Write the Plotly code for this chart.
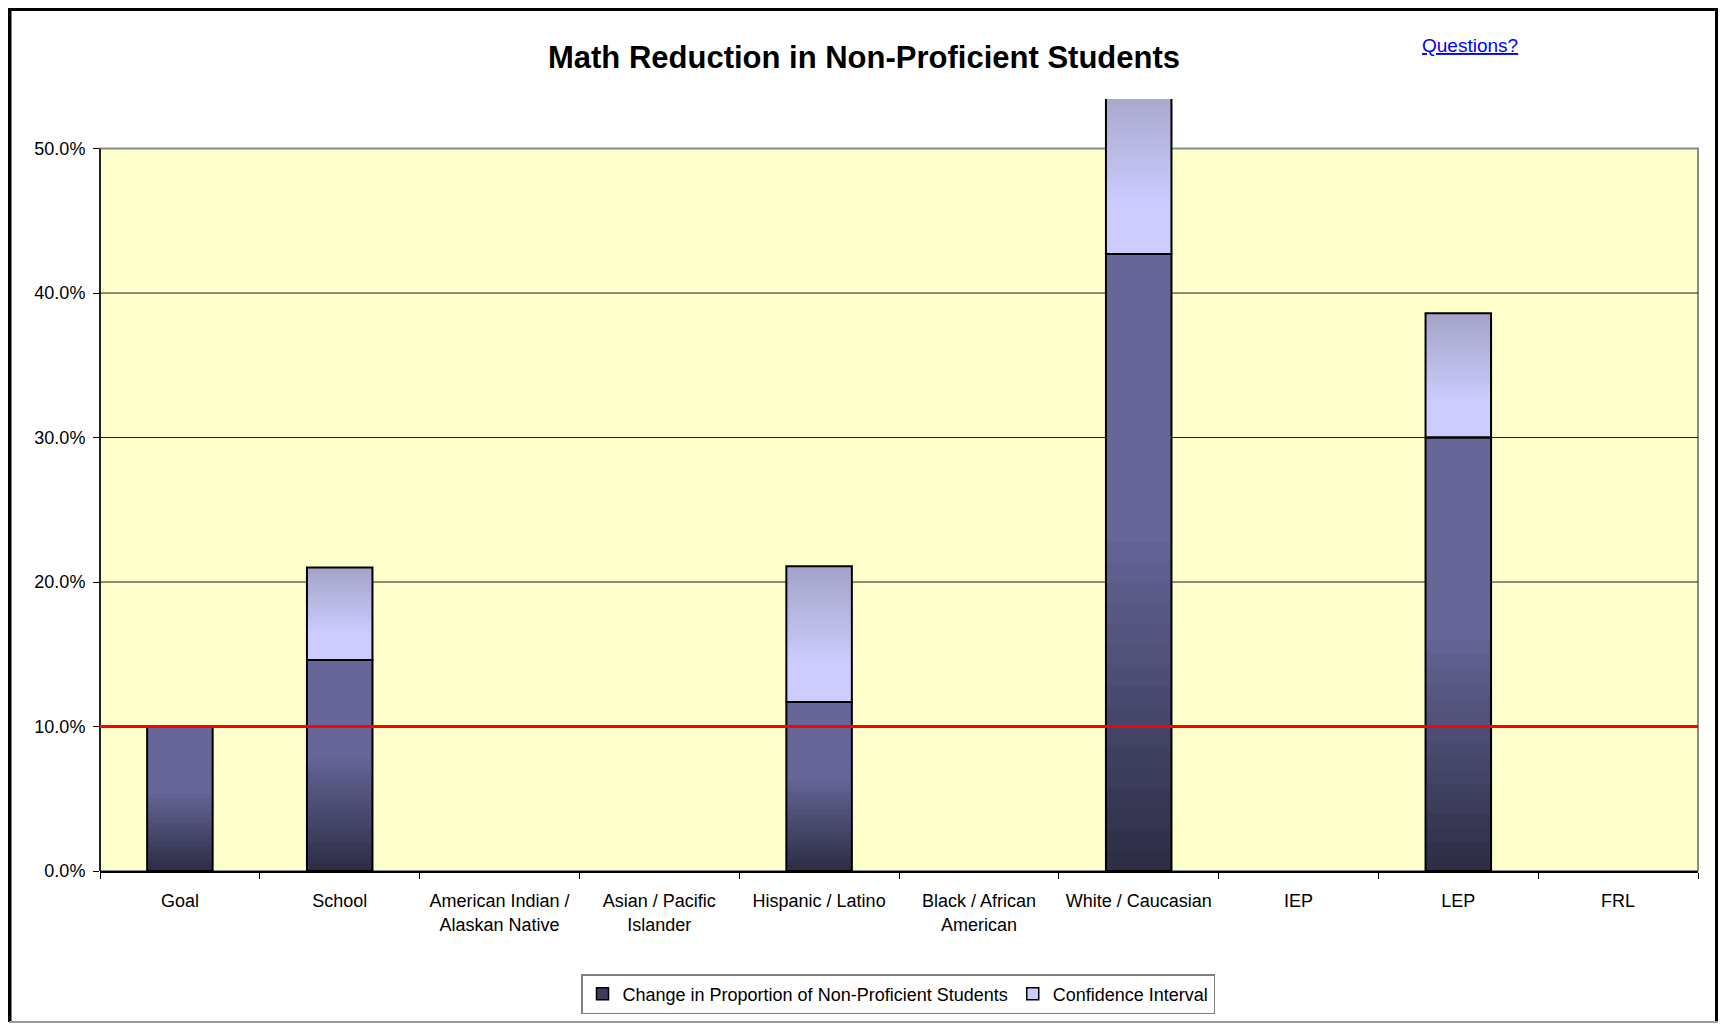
import plotly.graph_objects as go

# ---------------- data ----------------
categories = [
    "Goal", "School", "American Indian /<br>Alaskan Native", "Asian / Pacific<br>Islander",
    "Hispanic / Latino", "Black / African<br>American", "White / Caucasian", "IEP", "LEP", "FRL",
]
change = [0.100, 0.146, None, None, 0.117, None, 0.427, None, 0.300, None]
conf_interval = [None, 0.064, None, None, 0.094, None, 0.120, None, 0.086, None]
goal_line = 0.10
y_ticks = [0.0, 0.1, 0.2, 0.3, 0.4, 0.5]
series_names = ["Change in Proportion of Non-Proficient Students", "Confidence Interval"]

# ---------------- style ----------------
OFF = 8                      # page body margin in the browser
W, H = 1718, 1016
L, R, T, B = 92, 28, 91, 153
PW, PH = W - L - R, H - T - B
FONT = "Liberation Sans, Arial, sans-serif"
N_SLICES = 30
BAR_W = 0.41


def px2x(px):
    """screen pixel x -> paper x"""
    return (px - OFF - L) / PW


def py2y(py):
    """screen pixel y -> paper y"""
    return (H - B - (py - OFF)) / PH


def hex2rgb(h):
    h = h.lstrip("#")
    return tuple(int(h[i:i + 2], 16) for i in (0, 2, 4))


def lerp(c1, c2, t):
    a, b = hex2rgb(c1), hex2rgb(c2)
    return "rgb(%d,%d,%d)" % tuple(round(a[i] + (b[i] - a[i]) * t) for i in range(3))


def dark_color(t):
    return lerp("#2c2c44", "#666699", min(t / 0.55, 1.0))


def light_color(t):
    if t < 0.28:
        return "#ccccff"
    return lerp("#ccccff", "#a3a3c8", (t - 0.28) / 0.72)


fig = go.Figure()

# legend entries
fig.add_trace(go.Bar(x=categories, y=[None] * len(categories), name=series_names[0],
                     marker=dict(color="#3c3c5c", line=dict(color="black", width=1.5)),
                     width=BAR_W, showlegend=True))
fig.add_trace(go.Bar(x=categories, y=[None] * len(categories), name=series_names[1],
                     marker=dict(color="#ccccff", line=dict(color="black", width=1.5)),
                     width=BAR_W, showlegend=True))

# gradient of the main series: each layer runs from its start up to the bar top
for k in range(N_SLICES):
    t = k / N_SLICES
    fig.add_trace(go.Bar(
        x=categories,
        base=[None if v is None else v * t for v in change],
        y=[None if v is None else v * (1 - t) for v in change],
        marker=dict(color=dark_color(t + 0.5 / N_SLICES), line=dict(width=0)),
        width=BAR_W, showlegend=False, hoverinfo="skip",
    ))

# gradient of the confidence interval
for k in range(N_SLICES):
    t = k / N_SLICES
    fig.add_trace(go.Bar(
        x=categories,
        base=[None if (v is None or c is None) else v + c * t for v, c in zip(change, conf_interval)],
        y=[None if c is None else c * (1 - t) for c in conf_interval],
        marker=dict(color=light_color(t + 0.5 / N_SLICES), line=dict(width=0)),
        width=BAR_W, showlegend=False, hoverinfo="skip",
    ))

# outlines
fig.add_trace(go.Bar(x=categories, base=[0 if v is not None else None for v in change], y=change,
                     marker=dict(color="rgba(0,0,0,0)", line=dict(color="black", width=2)),
                     width=BAR_W, showlegend=False, name=series_names[0]))
fig.add_trace(go.Bar(x=categories, base=change, y=conf_interval,
                     marker=dict(color="rgba(0,0,0,0)", line=dict(color="black", width=2)),
                     width=BAR_W, showlegend=False, name=series_names[1]))

shapes = []
shapes.append(dict(type="rect", xref="paper", yref="y", x0=0, x1=1, y0=y_ticks[0], y1=y_ticks[-1],
                   fillcolor="#FFFFCC", line=dict(color="#8a8a8a", width=2), layer="below"))
for v in y_ticks[1:-1]:
    shapes.append(dict(type="line", xref="paper", yref="y", x0=0, x1=1, y0=v, y1=v,
                       line=dict(color="#1e1e1e", width=1), layer="below"))
shapes.append(dict(type="line", xref="paper", yref="y", x0=0, x1=0, y0=y_ticks[0], y1=y_ticks[-1],
                   line=dict(color="black", width=1.5), layer="above"))
shapes.append(dict(type="line", xref="paper", yref="y", x0=0, x1=1, y0=goal_line, y1=goal_line,
                   line=dict(color="#ff0000", width=3), layer="above"))
# outer frame
xl, xr, yt, yb = px2x(9), px2x(1718), py2y(8.5), py2y(1022)
shapes.append(dict(type="line", xref="paper", yref="paper", x0=xl, x1=xl, y0=yb, y1=py2y(0),
                   line=dict(color="black", width=5)))
shapes.append(dict(type="line", xref="paper", yref="paper", x0=xr, x1=xr, y0=yb, y1=py2y(0),
                   line=dict(color="black", width=6)))
shapes.append(dict(type="line", xref="paper", yref="paper", x0=px2x(0), x1=px2x(1726), y0=yt, y1=yt,
                   line=dict(color="black", width=5)))
shapes.append(dict(type="line", xref="paper", yref="paper", x0=xl, x1=xr, y0=yb, y1=yb,
                   line=dict(color="#9a9a9a", width=2)))

fig.update_layout(
    width=W, height=H,
    margin=dict(l=L, r=R, t=T, b=B, pad=0, autoexpand=False),
    paper_bgcolor="white", plot_bgcolor="rgba(0,0,0,0)",
    barmode="overlay",
    title=dict(text="<b>Math Reduction in Non-Proficient Students</b>", xref="container",
               x=(864 - OFF) / W, xanchor="center", yref="container", y=1 - (57 - OFF) / H,
               yanchor="middle", font=dict(family=FONT, size=31, color="black")),
    font=dict(family=FONT, size=18, color="black"),
    xaxis=dict(type="category", tickson="boundaries", ticks="outside", ticklen=6, tickcolor="black",
               tickwidth=1, showline=True, linecolor="black", linewidth=1.5, showgrid=False,
               zeroline=False, tickfont=dict(family=FONT, size=18, color="black"), tickangle=0,
               ticklabelstandoff=13, automargin=False, fixedrange=True),
    yaxis=dict(range=[0, 0.5343], tickvals=y_ticks, tickformat=".1%", ticks="outside", ticklen=6,
               tickcolor="black", tickwidth=1, showgrid=False, zeroline=False, showline=False,
               tickfont=dict(family=FONT, size=18, color="black"), ticklabelstandoff=4,
               automargin=False, fixedrange=True),
    legend=dict(orientation="h", x=px2x(898), xanchor="center", y=py2y(994), yanchor="middle",
                bordercolor="#808080", borderwidth=1.5, bgcolor="white",
                font=dict(family=FONT, size=18, color="black"), itemclick=False),
    shapes=shapes,
    annotations=[dict(text='<a href="#"><span style="color:#0000ff"><u>Questions?</u></span></a>',
                      xref="paper", yref="paper",
                      x=px2x(1470), y=py2y(46), xanchor="center", yanchor="middle", showarrow=False,
                      font=dict(family=FONT, size=19, color="#0000ff"))],
)

fig.write_html("out.html")
